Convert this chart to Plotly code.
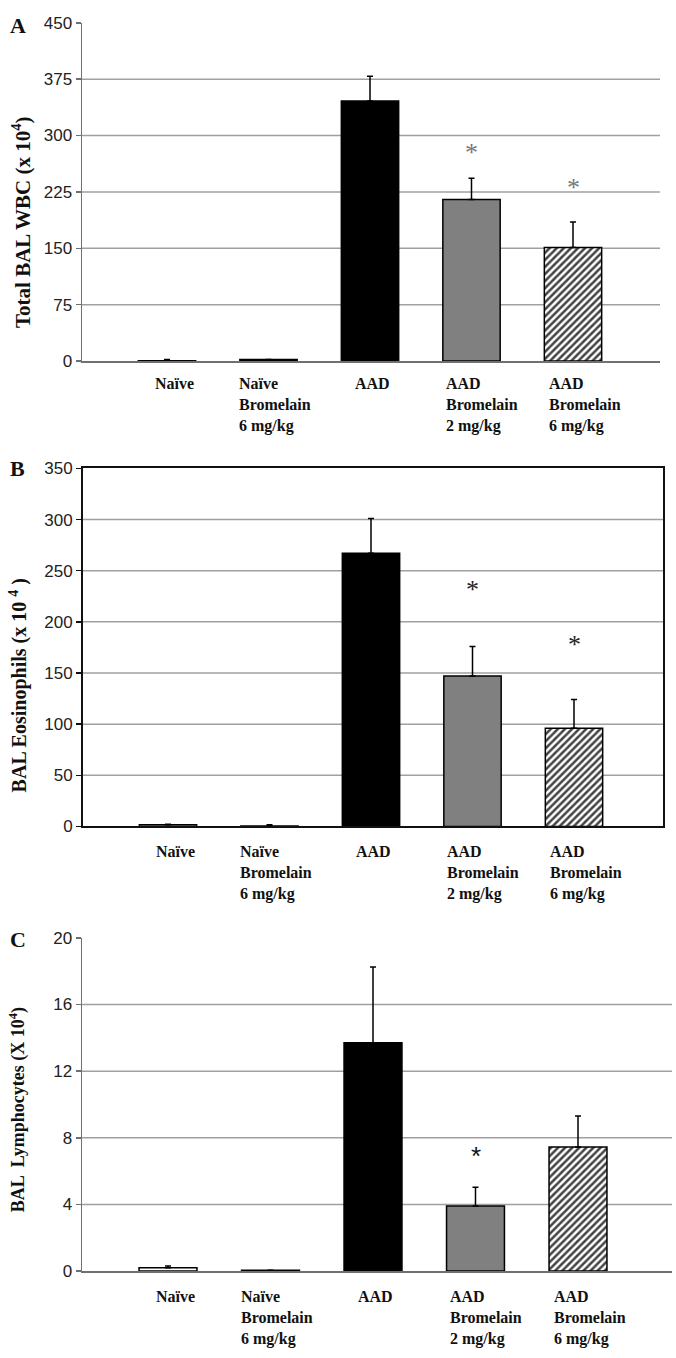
import plotly.graph_objects as go

W, H = 676, 1358

categories = ["Naïve", "Naïve Bromelain 6 mg/kg", "AAD",
              "AAD Bromelain 2 mg/kg", "AAD Bromelain 6 mg/kg"]
cat_labels = ["Naïve", "Naïve<br>Bromelain<br>6 mg/kg", "AAD",
              "AAD<br>Bromelain<br>2 mg/kg", "AAD<br>Bromelain<br>6 mg/kg"]

# Panel A: Total BAL WBC (x10^4)
wbc_mean = [0.5, 2, 346, 215, 151]
wbc_err = [1.5, 0, 33, 28, 34]
wbc_star_y = [None, None, None, 278, 231]

# Panel B: BAL Eosinophils (x10^4)
eos_mean = [1.5, 0.5, 267, 147, 96]
eos_err = [0.5, 1.0, 34, 29, 28]
eos_star_y = [None, None, None, 232, 178]

# Panel C: BAL Lymphocytes (x10^4)
lym_mean = [0.2, 0.05, 13.7, 3.9, 7.45]
lym_err = [0.1, 0.0, 4.55, 1.13, 1.85]
lym_star_y = [None, None, None, 6.9, None]

fill_colors = ["white", "white", "black", "#808080", "white"]
pattern_shapes = ["", "", "", "", "/"]

x_idx = list(range(len(categories)))


def py(p):
    return 1 - p / H


panels = [
    dict(mean=wbc_mean, err=wbc_err, star=wbc_star_y, yr=[0, 450], dt=75,
         top=14, bot=357, left=82, right=660, spacing=101.5, c0=167,
         title="Total BAL WBC (x 10<sup>4</sup>)", tx=22, ty=216, tsize=21,
         letter="A", ly=17, grid=[75, 150, 225, 300, 375], axcol="#707070",
         axw=1.5, star_col="#777777", star_size=26, star_font="Liberation Serif",
         lab_shift=-12, box=False),
    dict(mean=eos_mean, err=eos_err, star=eos_star_y, yr=[0, 350], dt=50,
         top=466, bot=829, left=83, right=663, spacing=101.5, c0=168,
         title="BAL Eosinophils (x 10 <sup>4</sup> )", tx=18, ty=686, tsize=20,
         letter="B", ly=466, grid=[50, 100, 150, 200, 250, 300], axcol="#111111",
         axw=2, star_col="#222222", star_size=26, star_font="Liberation Serif",
         lab_shift=-15, box=True),
    dict(mean=lym_mean, err=lym_err, star=lym_star_y, yr=[0, 20], dt=4,
         top=942, bot=1280, left=82, right=672, spacing=102.5, c0=168,
         title="BAL  Lymphocytes (X 10<sup>4</sup>)", tx=18, ty=1117, tsize=18,
         letter="C", ly=944, grid=[4, 8, 12, 16], axcol="#707070",
         axw=1.5, star_col="#111111", star_size=26, star_font="Liberation Sans",
         lab_shift=-15, box=False),
]

label_xshift = [-14, -32, -17, -28, -26]

fig = go.Figure()
annotations = []
shapes = []
layout_axes = {}

for i, p in enumerate(panels, start=1):
    xa = "x" if i == 1 else f"x{i}"
    ya = "y" if i == 1 else f"y{i}"
    xkey = "xaxis" if i == 1 else f"xaxis{i}"
    ykey = "yaxis" if i == 1 else f"yaxis{i}"

    fig.add_trace(go.Bar(
        x=x_idx, y=p["mean"], xaxis=xa, yaxis=ya, width=0.565,
        marker=dict(color=fill_colors, line=dict(color="black", width=1.5),
                    pattern=dict(shape=pattern_shapes, fgcolor="black",
                                 bgcolor="white", size=5, solidity=0.5,
                                 fgopacity=1)),
        error_y=dict(type="data", symmetric=False, array=p["err"],
                     arrayminus=[0] * len(p["err"]), color="black",
                     thickness=1.5, width=3),
        showlegend=False, hoverinfo="skip",
    ))

    x0 = (p["left"] - p["c0"]) / p["spacing"]
    x1 = (p["right"] - p["c0"]) / p["spacing"]
    layout_axes[xkey] = dict(
        domain=[p["left"] / W, p["right"] / W], range=[x0, x1],
        anchor=ya, showticklabels=False, ticks="", showgrid=False,
        zeroline=False, showline=True, linecolor=p["axcol"], linewidth=p["axw"],
        mirror=p["box"], fixedrange=True,
    )
    layout_axes[ykey] = dict(
        domain=[py(p["bot"]), py(p["top"])], range=p["yr"], dtick=p["dt"],
        anchor=xa, showgrid=False, zeroline=False, showline=True,
        linecolor=p["axcol"], linewidth=p["axw"], mirror=p["box"],
        ticks="outside", ticklen=5, tickcolor=p["axcol"], tickwidth=1.5,
        tickfont=dict(family="Liberation Sans, Arial", size=17, color="#222222"),
        fixedrange=True,
    )

    for g in p["grid"]:
        shapes.append(dict(type="line", xref=f"{xa} domain", yref=ya,
                           x0=0, x1=1, y0=g, y1=g, layer="below",
                           line=dict(color="#a0a0a0", width=1.5)))

    for xi, sy in zip(x_idx, p["star"]):
        if sy is not None:
            annotations.append(dict(
                x=xi, y=sy, xref=xa, yref=ya, text="*", showarrow=False,
                font=dict(family=p["star_font"], size=p["star_size"],
                          color=p["star_col"])))

    for xi, lab, xs in zip(x_idx, cat_labels, label_xshift):
        annotations.append(dict(
            x=xi, y=py(p["bot"]), xref=xa, yref="paper", text=f"<b>{lab}</b>",
            showarrow=False, xanchor="left", yanchor="top", align="left",
            xshift=xs, yshift=p["lab_shift"],
            font=dict(family="Liberation Serif, Times New Roman", size=16,
                      color="#111111")))

    annotations.append(dict(
        x=p["tx"] / W, y=py(p["ty"]), xref="paper", yref="paper",
        text=f"<b>{p['title']}</b>", textangle=-90, showarrow=False,
        xanchor="center", yanchor="middle",
        font=dict(family="Liberation Serif, Times New Roman", size=p["tsize"],
                  color="#111111")))

    annotations.append(dict(
        x=8 / W, y=py(p["ly"]), xref="paper", yref="paper",
        text=f"<b>{p['letter']}</b>", showarrow=False,
        xanchor="left", yanchor="middle",
        font=dict(family="Liberation Serif, Times New Roman", size=22,
                  color="#111111")))

fig.update_layout(
    width=W, height=H, margin=dict(l=0, r=0, t=0, b=0),
    paper_bgcolor="white", plot_bgcolor="white",
    annotations=annotations, shapes=shapes, bargap=0.44,
    **layout_axes,
)

fig.write_html("out.html",
               config={"displayModeBar": False, "staticPlot": True},
               post_script="document.body.style.margin='0';"
                           "document.body.style.overflow='hidden';")
